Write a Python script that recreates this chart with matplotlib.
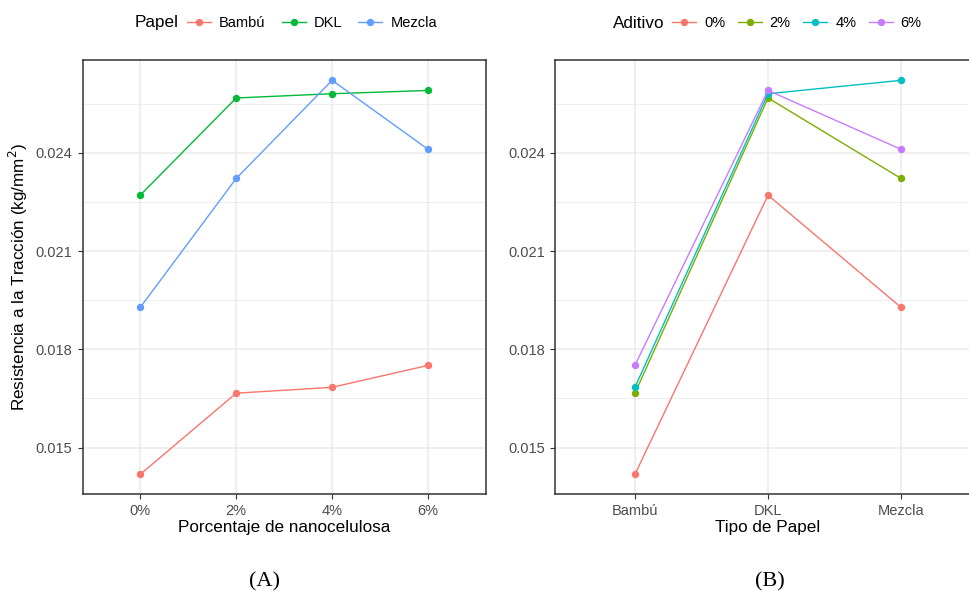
import numpy as np
import matplotlib
matplotlib.use("Agg")
from matplotlib import pyplot as plt
from matplotlib.lines import Line2D

plt.rcParams['font.family'] = ['Liberation Sans', 'DejaVu Sans']

# data
aditivos = ['0%', '2%', '4%', '6%']
papeles = ['Bambú', 'DKL', 'Mezcla']
bambu = [0.01418, 0.01666, 0.01684, 0.01751]
dkl = [0.02271, 0.02568, 0.02581, 0.02591]
mezcla = [0.01928, 0.02322, 0.02622, 0.02411]

y_ticks = [0.015, 0.018, 0.021, 0.024]
y_minor = [0.0165, 0.0195, 0.0225, 0.0255]

papel_colors = ['#F8766D', '#00BA38', '#619CFF']
aditivo_colors = ['#F8766D', '#7CAE00', '#00BFC4', '#C77CFF']

table = np.array([bambu, dkl, mezcla])  # rows papel, cols aditivo

fig = plt.figure(figsize=(9.69, 5.99), dpi=100)
ax1 = fig.add_axes([0.0853, 0.1753, 0.4159, 0.7245])
ax2 = fig.add_axes([0.5728, 0.1753, 0.4396, 0.7245])

ymin, ymax = 0.01358, 0.02684


def style(ax, xlabels, xlabel):
    ax.set_xlim(-0.6, len(xlabels) - 0.4)
    ax.set_ylim(ymin, ymax)
    ax.set_xticks(range(len(xlabels)))
    ax.set_xticklabels(xlabels)
    ax.set_yticks(y_ticks)
    ax.set_yticklabels([f'{v:.3f}' for v in y_ticks])
    ax.set_yticks(y_minor, minor=True)
    ax.grid(True, which='major', color='#EBEBEB', lw=1.1)
    ax.grid(True, which='minor', axis='y', color='#EBEBEB', lw=0.6)
    ax.set_axisbelow(True)
    ax.tick_params(which='major', colors='#333333', labelcolor='#4D4D4D',
                   labelsize=10.5, length=3.5, width=0.8, pad=4)
    ax.tick_params(which='minor', length=0)
    for s in ax.spines.values():
        s.set_color('#333333')
        s.set_linewidth(1.1)
    ax.set_xlabel(xlabel, fontsize=12.3, labelpad=1)


x_ad = np.arange(len(aditivos))
for i, p in enumerate(papeles):
    ax1.plot(x_ad, table[i], color=papel_colors[i], lw=1.0, marker='o',
             ms=4.3, label=p)
style(ax1, aditivos, 'Porcentaje de nanocelulosa')
ax1.set_ylabel('Resistencia a la Tracción (kg/mm$^{2}$)', fontsize=12.3,
               labelpad=4)

x_pa = np.arange(len(papeles))
for j, a in enumerate(aditivos):
    ax2.plot(x_pa, table[:, j], color=aditivo_colors[j], lw=1.0, marker='o',
             ms=4.3, label=a)
style(ax2, papeles, 'Tipo de Papel')

# legends on top, title to the left
ly = 1 - 23 / 599
leg_kw = dict(loc='center left', frameon=False, fontsize=10.5,
              handlelength=1.65, handletextpad=0.55,
              borderpad=0, borderaxespad=0)

fig.text(135 / 969, ly, 'Papel', fontsize=12.3, va='center', ha='left')
h1 = [Line2D([], [], color=c, lw=1.0, marker='o', ms=4.3) for c in papel_colors]
fig.legend(h1, papeles, bbox_to_anchor=(187 / 969, ly), ncol=3,
           columnspacing=1.1, **leg_kw)

fig.text(613 / 969, ly, 'Aditivo', fontsize=12.3, va='center', ha='left')
h2 = [Line2D([], [], color=c, lw=1.0, marker='o', ms=4.3) for c in aditivo_colors]
fig.legend(h2, aditivos, bbox_to_anchor=(672 / 969, ly), ncol=4,
           columnspacing=0.85, **leg_kw)

fig.text(264 / 969, 1 - 582 / 599, '(A)', fontsize=16, ha='center',
         va='center', family='Liberation Serif')
fig.text(770 / 969, 1 - 582 / 599, '(B)', fontsize=16, ha='center',
         va='center', family='Liberation Serif')

fig.savefig('out.png', dpi=100)
